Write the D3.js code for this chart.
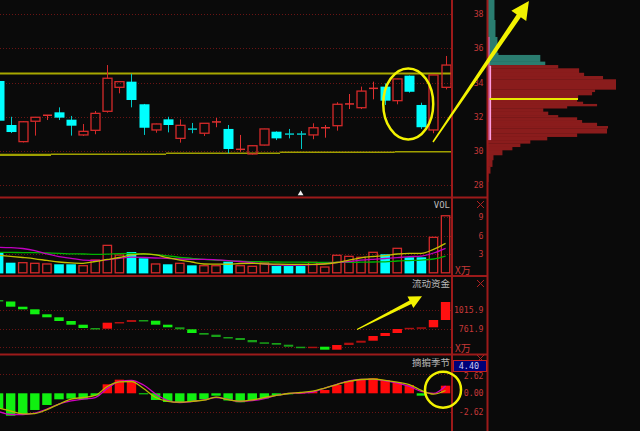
<!DOCTYPE html>
<html><head><meta charset="utf-8">
<script src="https://cdn.jsdelivr.net/npm/d3@7"></script>
<style>html,body{margin:0;padding:0;background:#0a0a0a;overflow:hidden}</style>
</head><body><svg id="c" width="640" height="431"></svg>
<script>
// ---------- data ----------
const opens  = [34.09,31.52,30.55,31.74,32.08,32.26,31.83,30.94,31.21,32.32,33.72,34.05,32.73,31.23,31.85,30.74,31.28,31.04,31.69,31.29,30.09,29.83,30.35,31.13,30.99,30.99,30.94,31.35,31.48,32.74,32.53,33.65,33.76,32.94,34.40,32.69,31.23,33.72];
const highs  = [34.12,32.00,31.75,31.99,32.10,32.55,32.05,31.58,32.34,35.02,34.07,34.50,32.75,31.60,32.00,31.85,31.64,31.63,31.93,31.52,30.94,30.33,31.30,31.15,31.29,31.17,31.62,31.52,32.85,33.33,33.76,34.05,33.95,34.22,34.41,32.82,34.45,35.55];
const lows   = [31.74,31.05,30.50,30.90,31.81,31.81,30.90,30.88,30.98,32.24,33.37,32.55,30.94,31.07,31.09,30.49,31.04,30.88,31.39,29.87,29.96,29.80,30.33,30.64,30.74,30.12,30.69,30.78,31.19,32.45,32.45,33.02,32.69,32.73,33.41,31.29,31.04,33.60];
const closes = [31.77,31.11,31.71,31.97,32.09,31.95,31.48,31.15,32.20,34.25,34.05,32.98,31.36,31.58,31.52,31.50,31.27,31.62,31.70,30.12,30.10,30.31,31.29,30.74,30.98,30.98,31.36,31.36,32.73,32.75,33.50,33.66,32.94,34.21,33.46,31.39,34.44,35.02];
const volumes = [3.32,1.64,1.64,1.54,1.43,1.38,1.38,1.15,2.07,4.45,2.88,3.37,2.35,1.43,1.38,1.54,1.21,1.15,1.15,1.80,1.15,1.05,1.64,1.10,1.10,1.10,1.70,0.94,2.84,2.67,2.51,3.32,3.00,3.97,2.51,2.51,5.75,9.25];
const volMaYellow  = [2.85,2.67,2.48,2.27,2.00,1.75,1.61,1.54,1.83,2.16,2.48,2.89,3.08,2.89,2.45,2.07,1.75,1.43,1.41,1.39,1.51,1.54,1.46,1.41,1.38,1.38,1.38,1.43,1.67,2.07,2.43,2.64,2.80,3.05,3.16,3.16,3.81,4.78];
const volMaMagenta = [4.13,4.08,3.94,3.61,3.05,2.64,2.35,2.07,2.02,2.11,2.35,2.53,2.48,2.40,2.35,2.24,2.19,2.19,2.11,1.99,1.83,1.64,1.43,1.30,1.26,1.26,1.31,1.49,1.67,1.83,2.04,2.19,2.32,2.46,2.61,2.72,3.21,3.97];
const volMaGreen   = [3.32,3.31,3.27,3.26,3.21,3.16,3.08,3.05,3.00,3.03,3.11,3.13,3.05,2.95,2.76,2.51,2.35,2.19,2.07,1.94,1.88,1.81,1.78,1.75,1.73,1.72,1.70,1.70,1.70,1.70,1.72,1.75,1.78,1.91,1.99,2.07,2.24,2.72];
const flowStart = 1153.2;
const flowValues = [1132.6,1061.2,1025.5,956.9,915.7,864.9,814.1,768.8,759.2,841.5,851.1,878.6,869.0,814.1,778.4,750.9,700.1,676.8,645.2,631.5,604.0,572.4,562.8,539.5,512.0,498.3,512.0,470.8,535.4,567.0,594.4,658.9,700.1,755.0,771.6,778.4,878.6,1125.7];
const seasonBars = [-2.12,-3.09,-2.90,-2.30,-1.61,-0.83,-0.74,-0.83,-0.33,1.24,1.88,1.70,-0.05,-0.92,-1.20,-1.24,-1.16,-0.83,-0.33,-0.99,-1.24,-0.92,-0.69,-0.30,-0.05,0.10,0.28,0.46,1.14,1.70,1.93,2.07,1.83,1.46,1.14,-0.33,0.05,1.05];
const seasonYellow  = [-2.03,-2.44,-2.83,-2.79,-2.24,-1.48,-0.79,-0.58,-0.30,0.94,1.57,1.63,0.66,-0.58,-1.10,-1.23,-1.10,-0.95,-0.54,-0.88,-1.09,-0.92,-0.58,-0.30,-0.03,0.11,0.29,0.73,1.21,1.63,1.90,1.97,1.79,1.55,1.21,0.39,-0.12,0.39];
const seasonMagenta = [-2.51,-2.92,-2.92,-2.72,-2.17,-1.48,-1.06,-0.81,-0.58,0.66,1.63,1.79,1.14,-0.10,-1.00,-1.27,-1.13,-0.92,-0.58,-0.85,-1.13,-1.02,-0.72,-0.30,-0.03,0.04,0.18,0.73,1.24,1.70,1.90,1.93,1.72,1.42,0.94,0.25,-0.03,1.01];
const priceTicks = [28,30,32,34,36,38];
const volTicks = [3,6,9];
const flowTicks = [1015.9,761.9,507.9];
const seasonGrid = [2.62,-2.62];
const seasonTicks = [2.62,0,-2.62];
const seasonLast = "4.40";
const profileEdges = [38.82,37.65,36.66,35.72,35.61,35.22,35.02,34.83,34.57,34.38,34.19,33.60,33.46,33.27,33.04,32.88,32.75,32.63,32.50,32.30,32.10,31.97,31.81,31.65,31.46,31.33,31.04,30.84,30.64,30.45,30.25,30.06,29.77,29.48,29.09,28.70,28.21];
const profileVols  = [7,8,10,11,53,58,71,92,97,116,129,108,105,91,90,96,110,80,56,61,71,90,95,110,121,120,90,60,43,33,25,15,6,5,3,1];
const avgCost = 33.04;
const concentration = [[30.64,36.66],[30.64,34.98]];
const resistance = 34.52;
const supportBreaks = [-0.6,4.34,13.86,23.3,32.8,37.6];
const supportLevels = [29.78,29.81,29.87,29.93,29.96];
const lowMarkIndex = 25;

// ---------- layout ----------
const W=640,H=431;
const svg=d3.select("#c");
svg.append("rect").attr("width",W).attr("height",H).attr("fill","#0a0a0a");
const N=opens.length;
const xBand=d3.scaleBand().domain(d3.range(N)).range([-7.44,451.6]).padding(0);
const step=xBand.step();
const xc=i=>xBand(i)+step/2;
const xLin=d3.scaleLinear().domain([0,N-1]).range([xc(0),xc(N-1)]);
const bodyW=9, barW=8.4;
const yP=d3.scaleLinear().domain([28,38]).range([185.3,14]);
const yV=d3.scaleLinear().domain([0,9]).range([272.8,217.3]);
const yF=d3.scaleLinear().domain([507.9,1015.9]).range([347,310]);
const yS=d3.scaleLinear().domain([-2.62,2.62]).range([412.3,374.3]);
const xProf=d3.scaleLinear().domain([0,d3.max(profileVols)]).range([487.5,616]);

const RED="#d42a2a", CYAN="#00ffff", CYANW="#00c8c8", BORDER="#9c1a1a", GRID="#6a1414", AX="#c83838";
const numFont="'DejaVu Sans Mono',monospace";
const cjk="'Noto Sans CJK SC','Noto Sans',sans-serif";

function grid(vals,scale){
  svg.append("g").selectAll("line").data(vals).join("line")
    .attr("x1",0).attr("x2",451).attr("y1",d=>Math.round(scale(d))+0.5).attr("y2",d=>Math.round(scale(d))+0.5)
    .attr("stroke",GRID).attr("stroke-width",1).attr("stroke-dasharray","1,2");
}
grid(priceTicks,yP); grid(volTicks,yV); grid(flowTicks,yF); grid(seasonGrid,yS);

// ---------- chip profile ----------
const lastClose=closes[N-1];
const prof=profileVols.map((v,i)=>({top:profileEdges[i],bot:profileEdges[i+1],v}));
svg.append("g").selectAll("rect").data(prof).join("rect")
  .attr("x",xProf(0)).attr("y",d=>yP(d.top)).attr("width",d=>xProf(d.v)-xProf(0))
  .attr("height",d=>yP(d.bot)-yP(d.top)+0.3)
  .attr("fill",d=>d.bot>=lastClose-0.01?"#2a7d70":"#8a1c1c");
svg.append("rect").attr("x",487.5).attr("width",2).attr("y",yP(concentration[0][1])).attr("height",yP(concentration[0][0])-yP(concentration[0][1])).attr("fill","#e070c8");
svg.append("rect").attr("x",489.5).attr("width",1.6).attr("y",yP(concentration[1][1])).attr("height",yP(concentration[1][0])-yP(concentration[1][1])).attr("fill","#ff9ce0");
svg.append("line").attr("x1",489.5).attr("x2",578).attr("y1",yP(avgCost)).attr("y2",yP(avgCost)).attr("stroke","#e8e800").attr("stroke-width",2);

// ---------- support / resistance ----------
svg.append("line").attr("x1",0).attr("x2",451).attr("y1",yP(resistance)).attr("y2",yP(resistance)).attr("stroke","#a8a800").attr("stroke-width",2);
svg.append("g").selectAll("line").data(supportLevels).join("line")
  .attr("x1",(d,i)=>Math.max(0,xLin(supportBreaks[i]))).attr("x2",(d,i)=>Math.min(451,xLin(supportBreaks[i+1])))
  .attr("y1",d=>yP(d)).attr("y2",d=>yP(d)).attr("stroke","#a0a000").attr("stroke-width",(d,i)=>i==0?2.2:1.6);

// ---------- candles ----------
const cd=d3.range(N).map(i=>({i,o:opens[i],h:highs[i],l:lows[i],c:closes[i],up:closes[i]>=opens[i]}));
const cg=svg.append("g");
cd.forEach(d=>{
  const x=Math.round(xc(d.i))+0.5;
  const top=yP(Math.max(d.o,d.c)), bot=yP(Math.min(d.o,d.c));
  const doji=bot-top<1.2;
  const col=d.up?RED:CYANW;
  if(doji){
    cg.append("line").attr("x1",x).attr("x2",x).attr("y1",yP(d.h)).attr("y2",yP(d.l)).attr("stroke",d.up?"#e03030":CYANW).attr("stroke-width",1);
    cg.append("line").attr("x1",x-bodyW/2).attr("x2",x+bodyW/2).attr("y1",top).attr("y2",top).attr("stroke",d.up?"#e03030":CYANW).attr("stroke-width",1.5);
    return;
  }
  if(d.up){
    cg.append("line").attr("x1",x).attr("x2",x).attr("y1",yP(d.h)).attr("y2",top).attr("stroke",col).attr("stroke-width",1);
    cg.append("line").attr("x1",x).attr("x2",x).attr("y1",bot).attr("y2",yP(d.l)).attr("stroke",col).attr("stroke-width",1);
    cg.append("rect").attr("x",x-bodyW/2).attr("y",top).attr("width",bodyW).attr("height",bot-top).attr("fill","none").attr("stroke",col).attr("stroke-width",1.3);
  } else {
    cg.append("line").attr("x1",x).attr("x2",x).attr("y1",yP(d.h)).attr("y2",yP(d.l)).attr("stroke",col).attr("stroke-width",1);
    cg.append("rect").attr("x",x-bodyW/2-0.5).attr("y",top).attr("width",bodyW+1).attr("height",bot-top).attr("fill",CYAN);
  }
});
// low marker
svg.append("path").attr("d",d3.symbol(d3.symbolTriangle,14)()).attr("transform",`translate(${xc(lowMarkIndex)},${193.5})`).attr("fill","#f0f0f0");

// ---------- volume ----------
const vg=svg.append("g");
cd.forEach(d=>{
  const x=xc(d.i), t=yV(volumes[d.i]), b=yV(0);
  if(d.up) vg.append("rect").attr("x",x-barW/2).attr("y",t).attr("width",barW).attr("height",b-t).attr("fill","none").attr("stroke",RED).attr("stroke-width",1.3);
  else vg.append("rect").attr("x",x-barW/2-0.6).attr("y",t).attr("width",barW+1.2).attr("height",b-t+0.6).attr("fill",CYAN);
});
function ln(vals,scale,color,w){
  svg.append("path").datum(vals).attr("d",d3.line().x((d,i)=>xc(i)).y(d=>scale(d)).curve(d3.curveMonotoneX))
    .attr("fill","none").attr("stroke",color).attr("stroke-width",w||1.3);
}
ln(volMaGreen,yV,"#00b400");
ln(volMaMagenta,yV,"#c000c0");
ln(volMaYellow,yV,"#c0c000");

// ---------- flow (waterfall) ----------
const fg=svg.append("g");
flowValues.forEach((v,i)=>{
  const p=i==0?flowStart:flowValues[i-1];
  const y1=yF(Math.max(v,p)), y2=yF(Math.min(v,p));
  const h=Math.max(1.5,y2-y1);
  fg.append("rect").attr("x",xc(i)-barW/2-0.5).attr("y",y1).attr("width",barW+1).attr("height",h)
    .attr("fill",v>=p?(h<2.5?"#b01010":"#ff1010"):(h<2.5?"#18a018":"#10f010"));
});

// ---------- season ----------
const sg=svg.append("g");
seasonBars.forEach((v,i)=>{
  const y0=yS(0), y1=yS(v);
  sg.append("rect").attr("x",xc(i)-barW/2-0.5).attr("y",Math.min(y0,y1)).attr("width",barW+1).attr("height",Math.max(1,Math.abs(y1-y0)))
    .attr("fill",v>=0?"#ff0a0a":"#10f010");
});
ln(seasonMagenta,yS,"#d000c0",1.3);
ln(seasonYellow,yS,"#b8b800",1.3);

// ---------- frame ----------
const fr=svg.append("g").attr("stroke",BORDER);
[197.5,276,354.5].forEach(y=>fr.append("line").attr("x1",0).attr("x2",487.5).attr("y1",y).attr("y2",y).attr("stroke-width",2));
fr.append("line").attr("x1",452).attr("x2",452).attr("y1",0).attr("y2",H).attr("stroke-width",2);
fr.append("line").attr("x1",487.5).attr("x2",487.5).attr("y1",0).attr("y2",H).attr("stroke-width",2);

// ---------- axis labels ----------
const lab=svg.append("g").attr("font-family",numFont).attr("font-size",8.2).attr("fill",AX).attr("text-anchor","end");
priceTicks.forEach(t=>lab.append("text").attr("x",483.5).attr("y",yP(t)+3).text(t));
volTicks.forEach(t=>lab.append("text").attr("x",483.5).attr("y",yV(t)+3).text(t));
flowTicks.forEach(t=>{ if(t>600) lab.append("text").attr("x",483.5).attr("y",yF(t)+3).text(t.toFixed(1)); });
seasonTicks.forEach(t=>lab.append("text").attr("x",483.5).attr("y",yS(t)+(t>2?5:3)).text(t.toFixed(2)));
[[455,274],[455,352]].forEach(p=>svg.append("text").attr("x",p[0]).attr("y",p[1]).attr("font-family",cjk).attr("font-size",10).attr("fill",AX).text("X万"));
// close icons
[[480.5,204.5],[480.5,283.5],[480.5,358.5]].forEach(p=>{
  svg.append("path").attr("d",`M${p[0]-3.5},${p[1]-3.5}L${p[0]+3.5},${p[1]+3.5}M${p[0]+3.5},${p[1]-3.5}L${p[0]-3.5},${p[1]+3.5}`).attr("stroke","#b02020").attr("stroke-width",1);
});
// last value box
svg.append("rect").attr("x",453.5).attr("y",360.5).attr("width",33).attr("height",11).attr("fill","#000078").attr("stroke","#c02020").attr("stroke-width",1);
svg.append("text").attr("x",469).attr("y",369.2).attr("text-anchor","middle").attr("font-family",numFont).attr("font-size",8.5).attr("fill","#c8c8f0").text(seasonLast);
// titles
const tt=svg.append("g").attr("fill","#b8b8b8").attr("text-anchor","end");
tt.append("text").attr("x",450).attr("y",207.5).attr("font-family",numFont).attr("font-size",9).text("VOL");
tt.append("text").attr("x",450).attr("y",287).attr("font-family",cjk).attr("font-size",9.5).text("流动资金");
tt.append("text").attr("x",450).attr("y",365.5).attr("font-family",cjk).attr("font-size",9.5).text("摘掮季节");

// ---------- annotations ----------
const Y="#f2f200";
function arrow(x1,y1,x2,y2,w0,w1,hl,hw){
  const dx=x2-x1,dy=y2-y1,L=Math.hypot(dx,dy),ux=dx/L,uy=dy/L,nx=-uy,ny=ux;
  const bx=x2-ux*hl,by=y2-uy*hl;
  const pts=[[x1+nx*w0/2,y1+ny*w0/2],[bx+nx*w1/2,by+ny*w1/2],[bx+nx*hw,by+ny*hw],[x2,y2],[bx-nx*hw,by-ny*hw],[bx-nx*w1/2,by-ny*w1/2],[x1-nx*w0/2,y1-ny*w0/2]];
  svg.append("path").attr("d",d3.line()(pts)+"Z").attr("fill",Y);
}
svg.append("ellipse").attr("cx",xLin(33.91)).attr("cy",yP(32.75)).attr("rx",25).attr("ry",35.5).attr("fill","none").attr("stroke",Y).attr("stroke-width",2.5);
arrow(xLin(35.96),yP(30.53),xLin(43.9),yP(38.76),1.5,5,18,9);
arrow(xLin(29.67),yF(748),xLin(35.05),yF(1204),1,4,13,6.5);
svg.append("circle").attr("cx",xLin(36.79)).attr("cy",yS(0.5)).attr("r",18).attr("fill","none").attr("stroke",Y).attr("stroke-width",2.5);
</script></body></html>
